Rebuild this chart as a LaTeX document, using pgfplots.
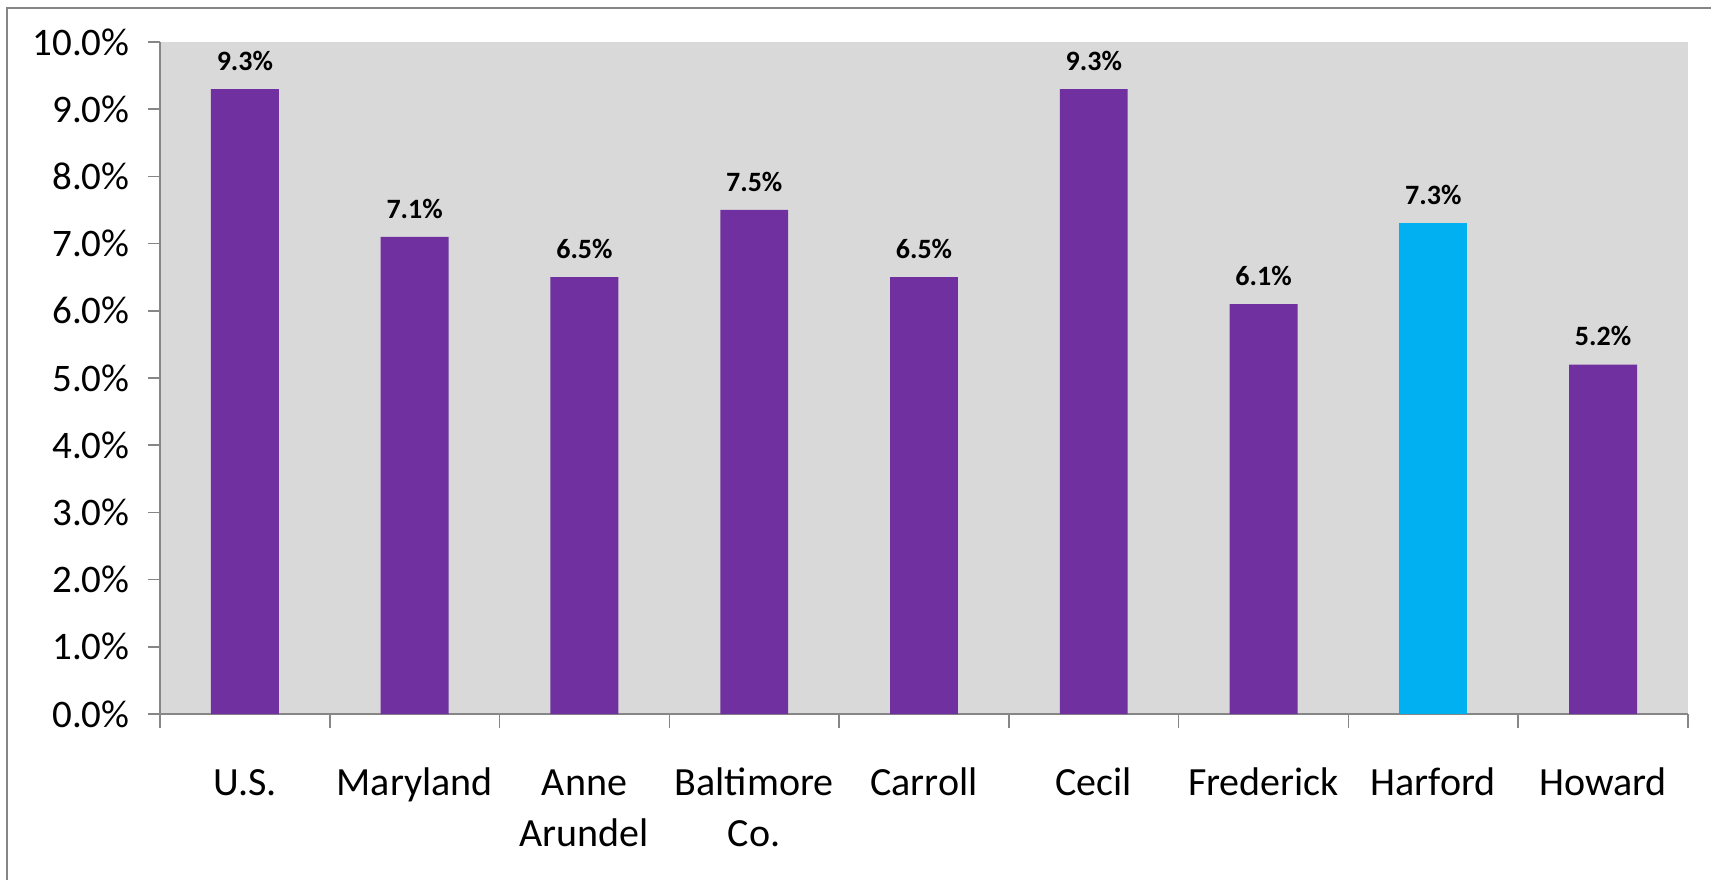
\documentclass[border=0pt]{standalone}
\usepackage{fontspec}
\setmainfont{Carlito}
\usepackage{pgfplots}
\pgfplotsset{compat=1.18}
\definecolor{barpurple}{HTML}{7030A0}
\definecolor{barcyan}{HTML}{00B0F0}
\definecolor{plotbg}{HTML}{D9D9D9}
\definecolor{axgray}{HTML}{868686}
\newcommand{\twoline}[2]{\begin{tabular}[t]{@{}c@{}}#1\\#2\end{tabular}}
\begin{document}
\begin{tikzpicture}
% page is 1711 x 879 px at 0.5pt per px
\useasboundingbox (-80pt,-82.5pt) rectangle (775.5pt,357pt);
\draw[axgray, line width=1pt] (-76.35pt,-90pt) -- (-76.35pt,352.85pt) -- (790pt,352.85pt);
\begin{axis}[
    scale only axis,
    width=764pt, height=336pt,
    xmin=-0.5, xmax=8.5,
    ymin=0, ymax=10,
    axis x line*=bottom, axis y line*=left,
    axis line style={axgray, line width=1.2pt},
    axis background/.style={fill=plotbg},
    tick align=outside,
    ytick={0,1,...,10},
    major tick length=6pt,
    minor tick length=7pt,
    tick style={axgray, line width=0.8pt},
    xtick={0,...,8},
    major x tick style={draw=none},
    minor xtick={-0.5,0.5,...,8.5},
    xticklabels={U.S., Maryland, \twoline{Anne}{Arundel}, \twoline{Baltimore}{Co.}, Carroll, Cecil, Frederick, Harford, Howard},
    xticklabel style={font=\fontsize{20}{25.5}\selectfont, anchor=base, yshift=-34.5pt},
    /pgf/number format/assume math mode=true,
    yticklabel={\pgfmathprintnumber[fixed,fixed zerofill,precision=1]{\tick}\%},
    yticklabel style={font=\fontsize{19.5}{23}\selectfont, anchor=east, inner sep=0pt, xshift=-9pt},
    ybar, bar width=0.4, bar shift=0pt,
    nodes near coords={\pgfmathprintnumber[fixed,fixed zerofill,precision=1]{\pgfplotspointmeta}\%},
    nodes near coords style={font=\fontsize{14}{17}\selectfont\bfseries, anchor=south, inner sep=0pt, yshift=9pt, black},
    clip=false,
]
\addplot[fill=barpurple, draw=none] coordinates {
    (0,9.3) (1,7.1) (2,6.5) (3,7.5) (4,6.5) (5,9.3) (6,6.1) (8,5.2)
};
\addplot[fill=barcyan, draw=none] coordinates {
    (7,7.3)
};
\end{axis}
\end{tikzpicture}
\end{document}
